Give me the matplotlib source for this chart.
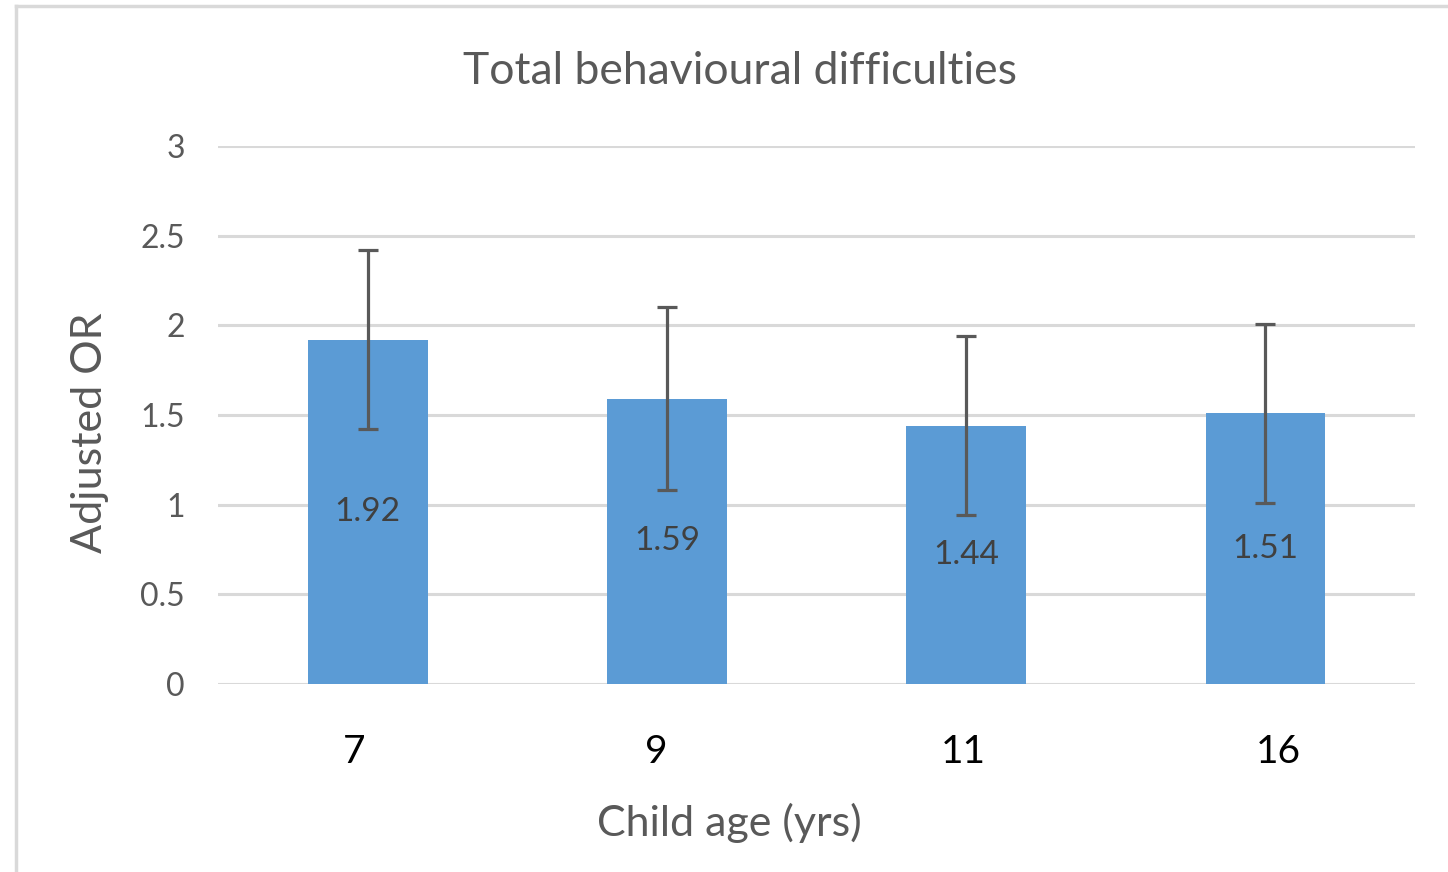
import numpy as np
import matplotlib.pyplot as plt
import matplotlib.transforms as mtransforms

ages = ['7', '9', '11', '16']
odds = [1.92, 1.59, 1.44, 1.51]
ci_low = [1.42, 1.08, 0.94, 1.01]
ci_high = [2.42, 2.10, 1.94, 2.01]

plt.rcParams['font.family'] = ['Lato', 'DejaVu Sans']
grey = '#595959'

fig = plt.figure(figsize=(14.48, 8.72), dpi=100)
ax = fig.add_axes([0.1506, 0.2156, 0.8266, 0.617])

x = np.arange(len(ages))
odds_arr = np.array(odds)
yerr = [odds_arr - np.array(ci_low), np.array(ci_high) - odds_arr]

ax.bar(x, odds, width=0.4, color='#5b9bd5', zorder=2)
ax.errorbar(x, odds, yerr=yerr, fmt='none', ecolor=grey, elinewidth=2.3,
            capsize=7, capthick=2.3, zorder=3)

for xi, v in zip(x, odds):
    ax.text(xi, v / 2, '%.2f' % v, ha='center', va='center', fontsize=24,
            color='#404040', zorder=4)

ax.set_xlim(-0.5, 3.5)
ax.set_ylim(0, 3)
ax.set_yticks([0, 0.5, 1, 1.5, 2, 2.5, 3])
ax.set_yticklabels(['0', '0.5', '1', '1.5', '2', '2.5', '3'])
ax.set_xticks(x)
ax.set_xticklabels(ages)
ax.yaxis.grid(True, color='#d9d9d9', linewidth=2.2, zorder=0)
ax.set_axisbelow(True)
for s in ax.spines.values():
    s.set_visible(False)
ax.tick_params(axis='y', length=0, pad=24, labelsize=23, labelcolor=grey)
ax.tick_params(axis='x', length=0, pad=36, labelsize=28, labelcolor='black')

# the category labels sit a little off the bar centres in the original
shifts = [-14, -11, -3, 13]
for lab, dx in zip(ax.get_xticklabels(), shifts):
    lab.set_transform(lab.get_transform() +
                      mtransforms.ScaledTranslation(dx / 100, 0, fig.dpi_scale_trans))

ax.set_xlabel('Child age (yrs)', fontsize=31, color=grey)
ax.xaxis.set_label_coords((729 - 218) / 1197, -(823 - 684) / 538, transform=ax.transAxes)
ax.xaxis.label.set_va('center')
ax.set_ylabel('Adjusted OR', fontsize=31, color=grey)
ax.yaxis.set_label_coords(-(218 - 90) / 1197, (684 - 433) / 538, transform=ax.transAxes)
ax.yaxis.label.set_va('center')
fig.text(0.511, 1 - 71 / 872, 'Total behavioural difficulties', ha='center',
         va='center', fontsize=32, color=grey)

# outer chart frame (left and top edges visible)
fig.add_artist(plt.Line2D([16 / 1448, 16 / 1448], [0, 1 - 6 / 872],
                          transform=fig.transFigure, color='#d9d9d9', linewidth=2.5))
fig.add_artist(plt.Line2D([16 / 1448, 1], [1 - 6 / 872, 1 - 6 / 872],
                          transform=fig.transFigure, color='#d9d9d9', linewidth=2.5))

plt.savefig('out.png', dpi=100)
